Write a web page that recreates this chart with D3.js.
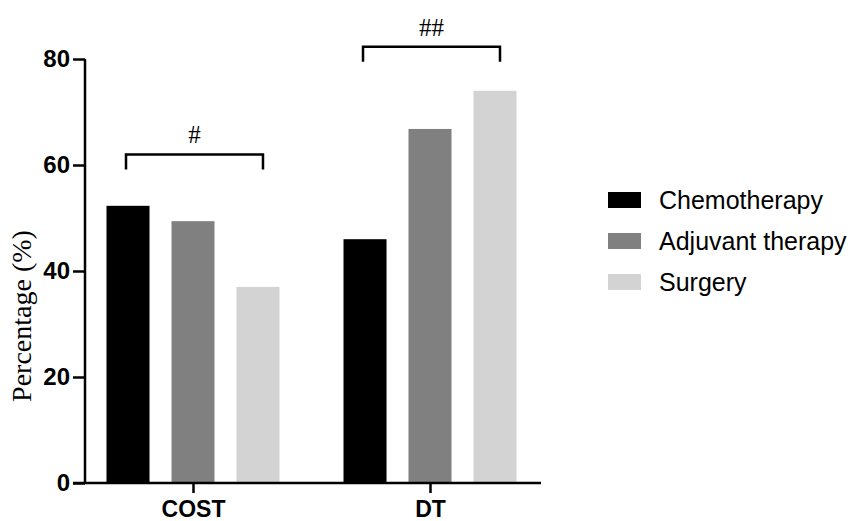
<!DOCTYPE html>
<html>
<head>
<meta charset="utf-8">
<script src="https://cdn.jsdelivr.net/npm/d3@7"></script>
<style>
  body { margin: 0; background: #fff; }
  svg { display: block; }
</style>
</head>
<body>
<div id="chart"></div>
<script>
"use strict";

var groups = ["COST", "DT"];
var series = ["Chemotherapy", "Adjuvant therapy", "Surgery"];
var colors = ["#000000", "#808080", "#d3d3d3"];
var costValues = [52.3, 49.4, 37.0];
var dtValues = [46.0, 66.8, 74.0];
var yTicks = [0, 20, 40, 60, 80];
var marks = ["#", "##"];
var bracketTop = [62, 82.3];

var values = [costValues, dtValues];

var width = 851, height = 521;
var svg = d3.select("#chart").append("svg")
    .attr("width", width)
    .attr("height", height);

var y = d3.scaleLinear().domain([0, 80]).range([483, 59]);

var x0 = d3.scalePoint().domain(groups).range([193, 430]);
var x1 = d3.scaleBand().domain(series).range([-86.5, 86.5]).paddingInner(0.338).paddingOuter(0);

// bars
var grp = svg.selectAll(".grp")
    .data(groups)
    .enter().append("g")
    .attr("transform", function(d) { return "translate(" + x0(d) + ",0)"; });

grp.selectAll("rect")
    .data(function(d, i) {
        return values[i].map(function(v, j) { return {s: series[j], v: v, c: colors[j]}; });
    })
    .enter().append("rect")
    .attr("x", function(d) { return x1(d.s); })
    .attr("width", x1.bandwidth())
    .attr("y", function(d) { return y(d.v); })
    .attr("height", function(d) { return y(0) - y(d.v); })
    .attr("fill", function(d) { return d.c; });

// significance brackets
grp.each(function(g, i) {
    var sel = d3.select(this);
    var xa = x1(series[0]) + x1.bandwidth() / 2 - 2;
    var xb = x1(series[2]) + x1.bandwidth() / 2 + 5;
    var yt = y(bracketTop[i]);
    sel.append("path")
        .attr("d", "M" + xa + "," + (yt + 15) + "V" + yt + "H" + xb + "V" + (yt + 15))
        .attr("fill", "none")
        .attr("stroke", "#000")
        .attr("stroke-width", 2.5);
    sel.append("text")
        .attr("x", (xa + xb) / 2)
        .attr("y", yt - 11)
        .attr("text-anchor", "middle")
        .style("font-family", "'Liberation Serif', 'Times New Roman', serif")
        .style("font-size", "25px")
        .text(marks[i]);
});

// y axis
var yAxis = d3.axisLeft(y).tickValues(yTicks).tickSize(12).tickPadding(3);
var ya = svg.append("g")
    .attr("transform", "translate(85,0)")
    .call(yAxis);
ya.select(".domain").attr("stroke-width", 2.5).attr("d", "M0," + y(80) + "V" + y(0));
ya.selectAll(".tick line").attr("stroke-width", 2.5);
ya.selectAll("text")
    .style("font-family", "'Liberation Sans', Arial, sans-serif")
    .style("font-weight", "bold")
    .style("font-size", "24px")
    .attr("fill", "#000");

// x axis
var xAxis = d3.axisBottom(x0).tickSize(10).tickPadding(8);
var xa = svg.append("g")
    .attr("transform", "translate(0," + y(0) + ")")
    .call(xAxis);
xa.select(".domain").attr("stroke-width", 2.5).attr("d", "M73,0H541");
xa.selectAll(".tick line").attr("stroke-width", 2.5);
xa.selectAll("text")
    .style("font-family", "'Liberation Sans', Arial, sans-serif")
    .style("font-weight", "bold")
    .style("font-size", "23px")
    .attr("fill", "#000");

// y label
svg.append("text")
    .attr("transform", "translate(31,316) rotate(-90)")
    .attr("text-anchor", "middle")
    .style("font-family", "'Liberation Serif', 'Times New Roman', serif")
    .style("font-size", "28px")
    .text("Percentage (%)");

// legend
var legend = svg.selectAll(".leg")
    .data(series)
    .enter().append("g")
    .attr("transform", function(d, i) { return "translate(608," + (200 + i * 41) + ")"; });
legend.append("rect")
    .attr("x", 0).attr("y", -8)
    .attr("width", 33).attr("height", 16)
    .attr("fill", function(d, i) { return colors[i]; });
legend.append("text")
    .attr("x", 51)
    .attr("y", 0)
    .attr("dy", "0.35em")
    .style("font-family", "'Liberation Sans', Arial, sans-serif")
    .style("font-size", "25px")
    .text(function(d) { return d; });
</script>
</body>
</html>
